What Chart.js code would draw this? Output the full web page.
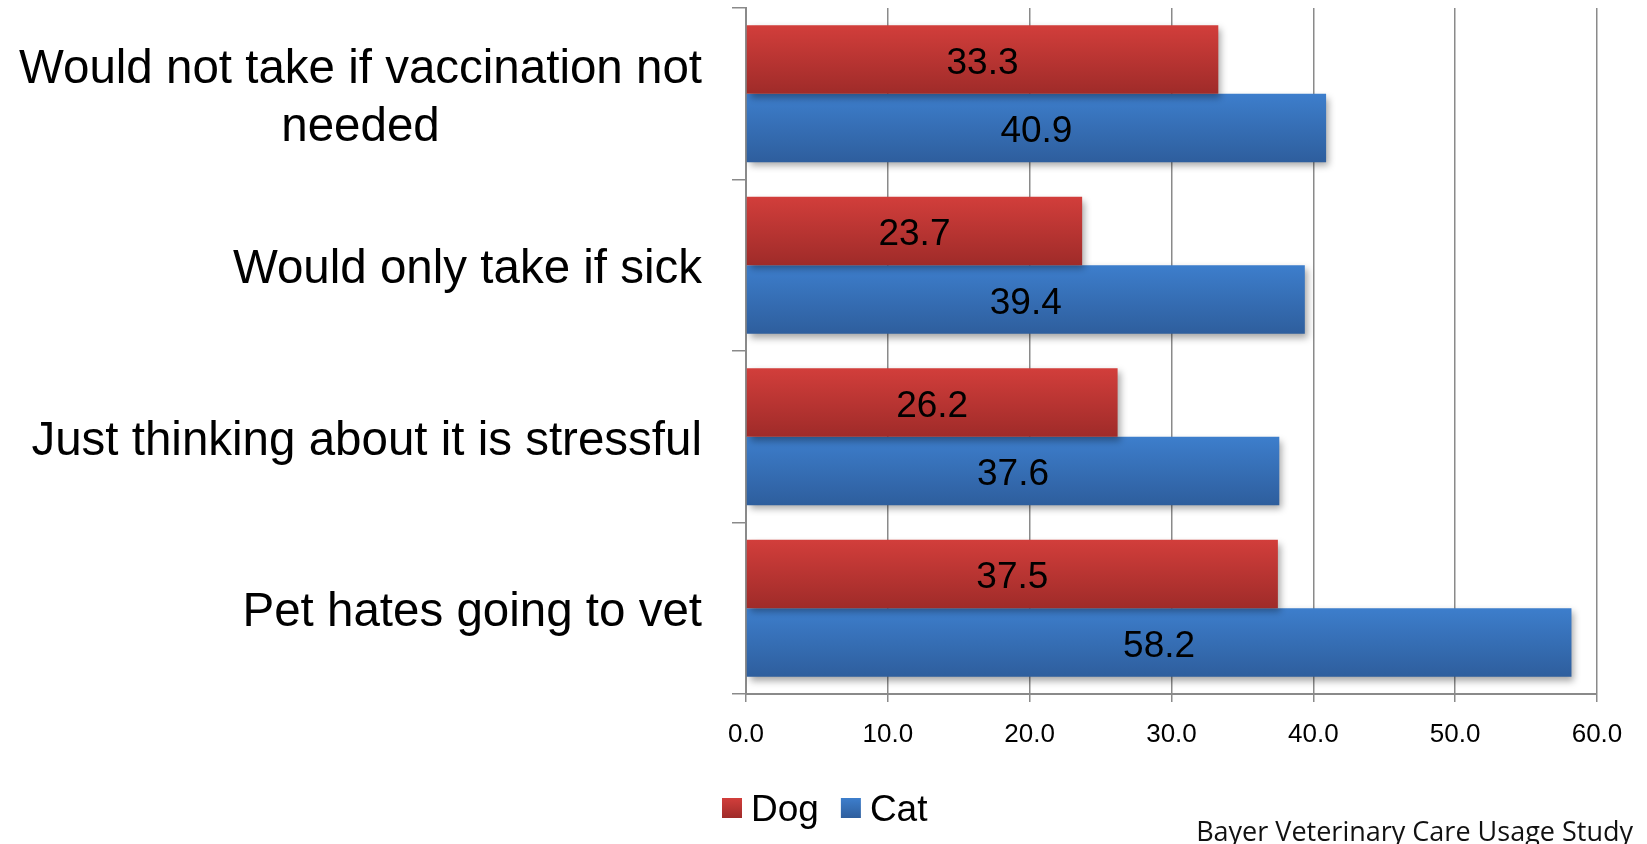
<!DOCTYPE html>
<html>
<head>
<meta charset="utf-8">
<title>Bayer Veterinary Care Usage Study</title>
<script src="https://cdn.jsdelivr.net/npm/chart.js@4.4.1/dist/chart.umd.min.js"></script>
<style>
  html, body { margin: 0; padding: 0; background: #ffffff; }
  #wrap { position: relative; width: 1647px; height: 844px; }
</style>
</head>
<body>
<div id="wrap"><canvas id="chart"></canvas></div>
<script>
// Categories, top to bottom (line breaks kept as arrays)
const categories = [
  ['Would not take if vaccination not', 'needed'],
  ['Would only take if sick'],
  ['Just thinking about it is stressful'],
  ['Pet hates going to vet']
];
const dogValues = [33.3, 23.7, 26.2, 37.5];
const catValues = [40.9, 39.4, 37.6, 58.2];
const seriesNames = ['Dog', 'Cat'];
const xTicks = [0, 10, 20, 30, 40, 50, 60];
const sourceNote = 'Bayer Veterinary Care Usage Study';

const redTop = '#d23e3b';
const redBottom = '#9f2b29';
const blueTop = '#3d7ecc';
const blueBottom = '#2e5e9d';
const gridColor = '#8a8a8a';
const labelFont = '"Liberation Sans", Arial, sans-serif';

// Vertical gradient for each bar, worked out from the category scale
function barGradient(topColor, bottomColor) {
  return function (ctx) {
    const chart = ctx.chart;
    const yScale = chart.scales.y;
    if (ctx.type !== 'data' || !chart.chartArea || !yScale) {
      return topColor;
    }
    const band = Math.abs(yScale.getPixelForValue(1) - yScale.getPixelForValue(0));
    const barH = band * 0.8 / 2;
    const center = yScale.getPixelForValue(ctx.dataIndex);
    const y0 = ctx.datasetIndex === 0 ? center - barH : center;
    const g = chart.ctx.createLinearGradient(0, y0, 0, y0 + barH);
    g.addColorStop(0, topColor);
    g.addColorStop(1, bottomColor);
    return g;
  };
}

// Soft drop shadow under the bars
const barShadow = {
  id: 'barShadow',
  beforeDatasetDraw(chart) {
    const c = chart.ctx;
    c.save();
    c.shadowColor = 'rgba(0,0,0,0.35)';
    c.shadowBlur = 7;
    c.shadowOffsetX = 3;
    c.shadowOffsetY = 4;
  },
  afterDatasetDraw(chart) {
    chart.ctx.restore();
  }
};

// Value labels in the middle of each bar
const valueLabels = {
  id: 'valueLabels',
  afterDatasetsDraw(chart) {
    const c = chart.ctx;
    c.save();
    c.font = '37px ' + labelFont;
    c.fillStyle = '#000000';
    c.textAlign = 'center';
    c.textBaseline = 'middle';
    chart.data.datasets.forEach((ds, i) => {
      chart.getDatasetMeta(i).data.forEach((bar, j) => {
        c.fillText(ds.data[j].toFixed(1), (bar.x + bar.base) / 2, bar.y + 4);
      });
    });
    c.restore();
  }
};

// Category labels (block right-aligned, lines centred on each other),
// legend and source note
const sideTexts = {
  id: 'sideTexts',
  afterDraw(chart) {
    const c = chart.ctx;
    const yScale = chart.scales.y;
    const rightEdge = 702;
    const lineH = 58;
    c.save();
    c.font = '47.5px ' + labelFont;
    c.fillStyle = '#000000';
    c.textAlign = 'center';
    c.textBaseline = 'middle';
    categories.forEach((lines, i) => {
      const widest = Math.max(...lines.map(t => c.measureText(t).width));
      const cx = rightEdge - widest / 2;
      const cy = yScale.getPixelForValue(i) + 5;
      lines.forEach((t, k) => {
        c.fillText(t, cx, cy + (k - (lines.length - 1) / 2) * lineH);
      });
    });

    // legend
    const fills = [[redTop, redBottom], [blueTop, blueBottom]];
    let lx = 722;
    const ly = 808;
    c.font = '37px ' + labelFont;
    c.textAlign = 'left';
    seriesNames.forEach((name, i) => {
      const g = c.createLinearGradient(0, ly - 10, 0, ly + 10);
      g.addColorStop(0, fills[i][0]);
      g.addColorStop(1, fills[i][1]);
      c.fillStyle = g;
      c.fillRect(lx, ly - 10, 20, 20);
      c.fillStyle = '#000000';
      c.fillText(name, lx + 29, ly + 3);
      lx += 29 + c.measureText(name).width + 22;
    });

    // source note, bottom right
    c.font = '27px "Open Sans", "Noto Sans", sans-serif';
    c.textAlign = 'right';
    c.textBaseline = 'alphabetic';
    c.fillStyle = '#111111';
    c.fillText(sourceNote, 1633, 841, 438);
    c.restore();
  }
};

const canvas = document.getElementById('chart');
canvas.width = 1647;
canvas.height = 844;

new Chart(canvas.getContext('2d'), {
  type: 'bar',
  data: {
    labels: categories,
    datasets: [
      {
        label: seriesNames[0],
        data: dogValues,
        backgroundColor: barGradient(redTop, redBottom),
        borderWidth: 0
      },
      {
        label: seriesNames[1],
        data: catValues,
        backgroundColor: barGradient(blueTop, blueBottom),
        borderWidth: 0
      }
    ]
  },
  options: {
    indexAxis: 'y',
    responsive: false,
    animation: false,
    devicePixelRatio: 1,
    barPercentage: 1.0,
    categoryPercentage: 0.8,
    layout: { padding: { top: 8, right: 50, bottom: 79, left: 0 } },
    scales: {
      x: {
        min: xTicks[0],
        max: xTicks[xTicks.length - 1],
        afterBuildTicks(scale) {
          scale.ticks = xTicks.map(v => ({ value: v }));
        },
        afterFit(scale) { scale.height = 71; },
        grid: { color: gridColor, lineWidth: 1.5, tickLength: 8, drawTicks: true },
        border: { color: gridColor, width: 2 },
        ticks: {
          color: '#000000',
          padding: 17,
          font: { family: labelFont, size: 26 },
          callback: v => Number(v).toFixed(1)
        }
      },
      y: {
        afterFit(scale) { scale.width = 746; },
        grid: { color: gridColor, lineWidth: 1.5, tickLength: 14, drawOnChartArea: false, drawTicks: true },
        border: { color: gridColor, width: 2 },
        ticks: { display: false }
      }
    },
    plugins: {
      legend: { display: false },
      tooltip: { enabled: false }
    }
  },
  plugins: [barShadow, valueLabels, sideTexts]
});
</script>
</body>
</html>
